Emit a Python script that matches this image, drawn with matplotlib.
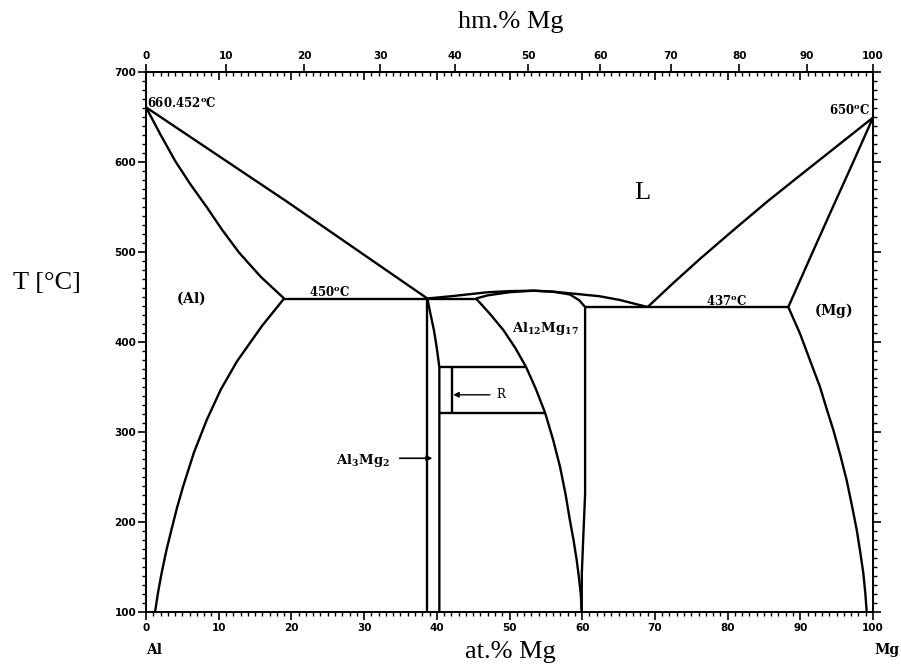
import numpy as np
import matplotlib
matplotlib.use("Agg")
import matplotlib.pyplot as plt
from matplotlib.ticker import MultipleLocator, NullLocator

plt.rcParams['mathtext.fontset'] = 'dejavuserif'

# ---------------- data (at.% Mg, T in degC) ----------------
liq_al_x = [0.0, 19.5, 38.7]
liq_al_T = [660.5, 555.0, 448.0]

sol_al_x = [0.0, 2.0, 4.0, 6.1, 8.4, 10.5, 12.8, 15.8, 19.0]
sol_al_T = [660.5, 630.0, 601.0, 575.0, 549.0, 524.0, 499.0, 472.0, 448.0]

solv_al_x = [19.0, 16.0, 12.5, 10.3, 8.35, 6.6, 5.1, 4.25, 3.5, 2.8, 2.15, 1.65, 1.25]
solv_al_T = [448.0, 418.0, 378.0, 347.0, 313.0, 277.0, 239.0, 215.0, 191.0, 168.0, 143.0, 121.0, 100.0]

eut1_x = [19.0, 45.4]
eut1_T = [448.0, 448.0]

beta_left_x = [38.7, 38.7]
beta_left_T = [448.0, 100.0]
beta_right_x = [38.7, 39.1, 39.6, 40.0, 40.35, 40.35]
beta_right_T = [448.0, 432.0, 413.0, 393.0, 371.6, 100.0]

r_upper_x = [40.35, 52.3]
r_upper_T = [371.6, 371.6]
r_lower_x = [40.35, 54.9]
r_lower_T = [321.0, 321.0]
r_phase_x = [42.1, 42.1]
r_phase_T = [371.6, 321.0]

gam_left_x = [45.4, 47.3, 49.15, 50.8, 52.3, 53.65, 54.9, 56.0, 56.95, 57.7, 58.3, 58.8,
              59.25, 59.55, 59.8, 59.93]
gam_left_T = [448.0, 431.0, 413.0, 393.0, 371.6, 347.0, 321.0, 291.0, 261.0, 231.0, 202.0,
              180.0, 157.0, 138.0, 120.0, 100.0]
gam_right_x = [60.4, 60.4, 60.15, 59.95, 59.93]
gam_right_T = [438.5, 231.0, 183.0, 143.0, 100.0]

liq_dome_x = [38.7, 42.3, 46.9, 50.0, 53.3, 56.0, 58.3, 62.4, 65.2, 69.0]
liq_dome_T = [448.0, 450.8, 454.9, 456.2, 456.7, 455.6, 453.8, 450.5, 446.3, 438.5]
sol_gam_x = [45.4, 47.0, 50.0, 53.3, 56.0, 58.3, 59.6, 60.4]
sol_gam_T = [448.0, 451.5, 455.0, 456.7, 455.5, 452.5, 446.0, 438.5]

eut2_x = [60.4, 88.35]
eut2_T = [438.5, 438.5]

liq_mg_x = [69.0, 72.5, 76.2, 80.8, 85.5, 90.0, 95.0, 100.0]
liq_mg_T = [438.5, 465.0, 492.0, 524.0, 556.0, 585.0, 617.0, 649.0]

sol_mg_x = [100.0, 97.3, 94.5, 91.5, 88.35]
sol_mg_T = [649.0, 600.0, 550.0, 496.0, 438.5]

solv_mg_x = [88.35, 89.96, 91.3, 92.7, 93.6, 94.54, 95.5, 96.38, 97.1, 97.76, 98.25, 98.67,
             98.95, 99.13]
solv_mg_T = [438.5, 409.0, 380.0, 350.0, 326.0, 302.0, 274.0, 246.0, 218.0, 191.0, 166.0,
             142.7, 120.0, 100.0]

wt_ticks = [0, 10, 20, 30, 40, 50, 60, 70, 80, 90, 100]
x_ticks = [0, 10, 20, 30, 40, 50, 60, 70, 80, 90, 100]
y_ticks = [100, 200, 300, 400, 500, 600, 700]

M_MG = 24.305
M_AL = 26.982


def at2wt(a):
    a = np.asarray(a, dtype=float)
    return a * M_MG / (a * M_MG + (100.0 - a) * M_AL) * 100.0


def wt2at(w):
    w = np.asarray(w, dtype=float)
    return (w / M_MG) / (w / M_MG + (100.0 - w) / M_AL) * 100.0


# ---------------- figure ----------------
fig = plt.figure(figsize=(9.01, 6.66), dpi=100)
ax = fig.add_axes([146 / 901, 1 - 611.7 / 666, (873 - 146) / 901, (611.7 - 71.7) / 666])

lw = 1.7
kw = dict(color='black', lw=lw, solid_capstyle='butt', solid_joinstyle='round')
for xs, ts in [(liq_al_x, liq_al_T), (sol_al_x, sol_al_T), (solv_al_x, solv_al_T),
               (eut1_x, eut1_T), (beta_left_x, beta_left_T), (beta_right_x, beta_right_T),
               (r_upper_x, r_upper_T), (r_lower_x, r_lower_T), (r_phase_x, r_phase_T),
               (gam_left_x, gam_left_T), (gam_right_x, gam_right_T),
               (liq_dome_x, liq_dome_T), (sol_gam_x, sol_gam_T),
               (eut2_x, eut2_T), (liq_mg_x, liq_mg_T), (sol_mg_x, sol_mg_T),
               (solv_mg_x, solv_mg_T)]:
    ax.plot(xs, ts, **kw)

ax.set_xlim(0, 100)
ax.set_ylim(100, 700)

tick_font = dict(family='DejaVu Sans', weight='bold', size=7.5)

ax.set_xticks(x_ticks)
ax.set_xticklabels([str(v) for v in x_ticks], fontdict=tick_font)
ax.xaxis.set_minor_locator(MultipleLocator(1))
ax.set_yticks(y_ticks)
ax.set_yticklabels([str(v) for v in y_ticks], fontdict=tick_font)
ax.yaxis.set_minor_locator(MultipleLocator(10))
ax.tick_params(axis='x', which='both', direction='out', top=False, bottom=True, pad=2)
ax.tick_params(axis='y', which='both', direction='out', left=True, right=True, pad=1)
ax.tick_params(which='major', length=6, width=1.2)
ax.tick_params(which='minor', length=3, width=1.0)
for s in ax.spines.values():
    s.set_linewidth(1.3)

# inward at.% ticks on top
tw = ax.twiny()
tw.set_xlim(0, 100)
tw.set_xticks(x_ticks)
tw.xaxis.set_minor_locator(MultipleLocator(1))
tw.tick_params(axis='x', which='both', direction='in', top=True, bottom=False,
               labeltop=False, labelbottom=False)
tw.tick_params(which='major', length=6, width=1.2)
tw.tick_params(which='minor', length=3, width=1.0)
for s in tw.spines.values():
    s.set_linewidth(1.3)

# wt.% axis on top
sec = ax.secondary_xaxis('top', functions=(at2wt, wt2at))
sec.set_xticks(wt_ticks)
sec.set_xticklabels([str(v) for v in wt_ticks], fontdict=tick_font)
sec.xaxis.set_minor_locator(NullLocator())
sec.tick_params(axis='x', which='major', direction='out', length=6, width=1.2, pad=2)
sec.spines['top'].set_linewidth(1.3)

# axis titles
serif = 'Liberation Serif'
fig.text(511 / 901, 1 - 22 / 666, 'hm.% Mg', family=serif, size=19, ha='center', va='center')
fig.text(510 / 901, 1 - 652 / 666, 'at.% Mg', family=serif, size=19, ha='center', va='center')
fig.text(47 / 901, 1 - 283 / 666, 'T [°C]', family=serif, size=19, ha='center', va='center')
fig.text(146 / 901, 1 - 650 / 666, 'Al', family='DejaVu Serif', weight='bold', size=10,
         ha='left', va='center')
fig.text(887 / 901, 1 - 650 / 666, 'Mg', family='DejaVu Serif', weight='bold', size=10,
         ha='center', va='center')

# in-plot labels
lab = dict(size=8.5, color='black')
ax.text(0.2, 665, r'$\mathbf{660.452^oC}$', ha='left', va='center', **lab)
ax.text(99.6, 657, r'$\mathbf{650^oC}$', ha='right', va='center', **lab)
ax.text(25.3, 455.5, r'$\mathbf{450^oC}$', ha='center', va='center', **lab)
ax.text(79.9, 445.5, r'$\mathbf{437^oC}$', ha='center', va='center', **lab)
ax.text(6.2, 448, r'$\mathbf{(Al)}$', ha='center', va='center', size=10)
ax.text(94.5, 434.5, r'$\mathbf{(Mg)}$', ha='center', va='center', size=10)
ax.text(68.3, 565, 'L', family=serif, size=19, ha='center', va='center')
ax.text(54.9, 415, r'$\mathbf{Al_{12}Mg_{17}}$', ha='center', va='center', size=9.5)
ax.text(48.8, 341, 'R', family='DejaVu Serif', size=8.5, ha='center', va='center')
ax.text(29.9, 268, r'$\mathbf{Al_3Mg_2}$', ha='center', va='center', size=9.5)

ax.annotate('', xy=(42.25, 341), xytext=(47.3, 341),
            arrowprops=dict(arrowstyle='-|>', color='black', lw=1.0, mutation_scale=8,
                            shrinkA=0, shrinkB=0))
ax.annotate('', xy=(39.4, 270.5), xytext=(34.9, 270.5),
            arrowprops=dict(arrowstyle='-|>', color='black', lw=1.2, mutation_scale=8,
                            shrinkA=0, shrinkB=0))

fig.savefig('out.png', dpi=100)
